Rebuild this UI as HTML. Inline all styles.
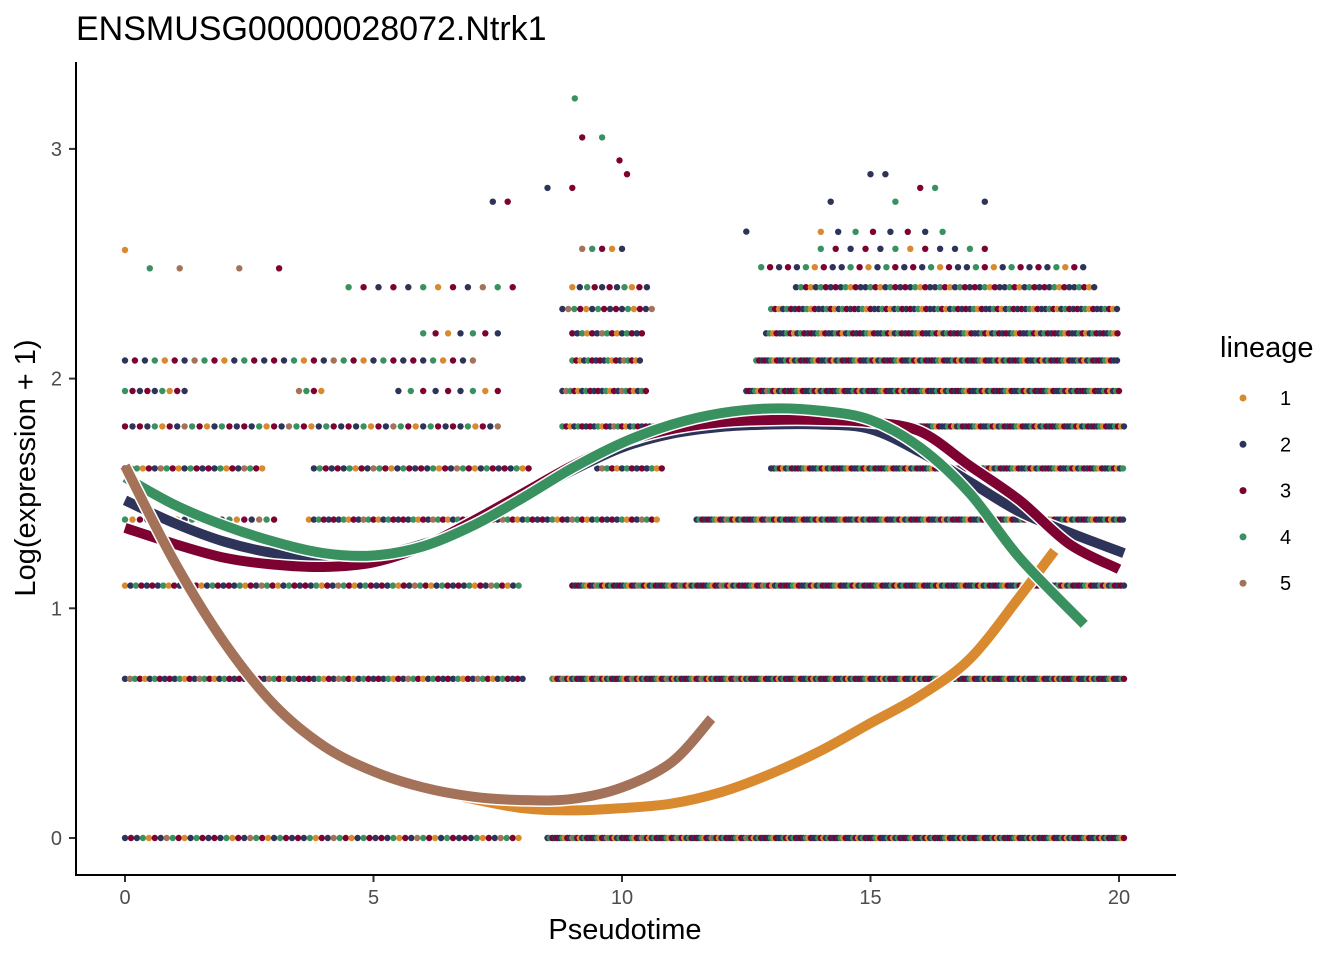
<!DOCTYPE html>
<html><head><meta charset="utf-8"><style>
body{margin:0;background:#fff;font-family:"Liberation Sans",Arial,sans-serif}
svg text{font-family:"Liberation Sans",Arial,sans-serif}
</style></head><body>
<svg id="chart" width="1344" height="960" viewBox="0 0 1344 960">
<text x="76" y="40" font-size="34" fill="#000">ENSMUSG00000028072.Ntrk1</text>
<g id="pts"></g>
<g id="curves"></g>
<line x1="76" y1="62" x2="76" y2="876" stroke="#000" stroke-width="2"/>
<line x1="75" y1="875" x2="1176" y2="875" stroke="#000" stroke-width="2"/>
<g id="xt"></g>
<g id="yt"></g>
<text x="625" y="939" font-size="29" text-anchor="middle">Pseudotime</text>
<text transform="translate(35,468) rotate(-90)" font-size="29" text-anchor="middle">Log(expression + 1)</text>
<g>
<text x="1220" y="357" font-size="29">lineage</text>
<g id="leg"></g>
</g>
</svg>
<script>
const NS="http://www.w3.org/2000/svg";
const colors=["#D98A2E","#2E3359","#7D0232","#3A9160","#A47159"];
const lineageNames=["1","2","3","4","5"];
const xTicks=[0,5,10,15,20];
const yTicks=[0,1,2,3];
// dot runs: [level, xStart, xEnd, step]
const levels=[0,0.693,1.099,1.386,1.609,1.792,1.946,2.079,2.197,2.303,2.398,2.485,2.565,2.639,2.708,2.773,2.833];
const runs=[
[0,0,8,0.12],[0,8.5,20.1,0.05],
[1,0,8,0.1],[1,8.6,20.1,0.05],
[2,0,8,0.11],[2,9,20.1,0.06],
[3,0,3,0.15],[3,3.7,10.7,0.1],[3,11.5,20.1,0.06],
[4,0,2.8,0.12],[4,3.8,8.2,0.12],[4,9.5,10.8,0.1],[4,13,20.1,0.06],
[5,0,7.5,0.15],[5,8.8,10.7,0.08],[5,13.8,20.1,0.06],
[6,0,1.2,0.15],[6,3.5,4,0.15],[6,5.5,7.5,0.25],[6,8.8,10.5,0.08],[6,12.5,20,0.06],
[7,0,7,0.2],[7,9,10.4,0.08],[7,12.7,20,0.06],
[8,6,7.5,0.25],[8,9,10.4,0.1],[8,12.9,20,0.07],
[9,8.8,10.6,0.12],[9,13,20,0.08],
[10,4.5,8,0.3],[10,9,10.5,0.15],[10,13.5,19.5,0.1],
[11,12.8,19.3,0.18],
[12,9.2,10,0.2],[12,14,17.5,0.3],
[13,14,16.5,0.35]];
const colorPattern=[1,2,1,3,0,2,1,4,3,2,0,1,3,2];
// individual high points: [x, y, lineage]
const extraX=[9.05,9.6,9.95,9.2,10.1,8.5,9.0,15.0,15.3,16.0,16.3,14.2,17.3,0.0,0.5,1.1,2.3,3.1,7.7,7.4,12.5,15.5];
const extraY=[3.22,3.05,2.95,3.05,2.89,2.83,2.83,2.89,2.89,2.83,2.83,2.77,2.77,2.56,2.48,2.48,2.48,2.48,2.77,2.77,2.64,2.77];
const extraL=[3,3,2,2,2,1,2,1,1,2,3,1,1,0,3,4,4,2,2,1,1,3];
// curves
const c1x=[0,1,2,3,4,5,6,7,8,9,10,11,12,13,14,15,16,17,18,18.7];
const c1y=[1.62,1.2,0.85,0.58,0.4,0.29,0.22,0.17,0.13,0.12,0.13,0.15,0.2,0.28,0.38,0.5,0.62,0.78,1.05,1.25];
const c2x=[0,1,2,3,4,5,6,7,8,9,10,11,12,13,14,15,16,17,18,19,20.1];
const c2y=[1.47,1.37,1.29,1.24,1.22,1.23,1.28,1.37,1.48,1.6,1.7,1.76,1.79,1.8,1.8,1.78,1.68,1.55,1.42,1.33,1.24];
const c3x=[0,1,2,3,4,5,6,7,8,9,10,11,12,13,14,15,16,17,18,19,20];
const c3y=[1.35,1.28,1.22,1.19,1.18,1.2,1.27,1.38,1.5,1.62,1.72,1.78,1.81,1.82,1.82,1.81,1.77,1.62,1.47,1.28,1.17];
const c4x=[0,1,2,3,4,5,6,7,8,9,10,11,12,13,14,15,16,17,18,19.3];
const c4y=[1.57,1.45,1.36,1.29,1.24,1.23,1.27,1.36,1.48,1.61,1.72,1.8,1.85,1.87,1.86,1.82,1.7,1.5,1.22,0.93];
const c5x=[0,1,2,3,4,5,6,7,8,9,10,11,11.8];
const c5y=[1.62,1.2,0.85,0.58,0.4,0.29,0.22,0.18,0.165,0.17,0.22,0.33,0.52];

const sx=v=>125+v*49.7;
const sy=v=>838-v*229.7;
const pts=document.getElementById('pts');
let k=0;
function dot(x,y,l){
  const c=document.createElementNS(NS,'circle');
  c.setAttribute('cx',sx(x).toFixed(1));c.setAttribute('cy',sy(y).toFixed(1));
  c.setAttribute('r',3.2);c.setAttribute('fill',colors[l]);
  
  
  pts.appendChild(c);
}
runs.forEach(r=>{
  for(let x=r[1];x<=r[2]+1e-9;x+=r[3]){
    let l=colorPattern[k%colorPattern.length];k++;
    if(x>13&&l===4)l=1;
    dot(x,levels[r[0]],l);
  }
});
extraX.forEach((x,i)=>dot(x,extraY[i],extraL[i]));

const cv=document.getElementById('curves');
function path(xs,ys){
  let d='M'+sx(xs[0])+','+sy(ys[0]);
  for(let i=0;i<xs.length-1;i++){
    const x0=xs[Math.max(i-1,0)],y0=ys[Math.max(i-1,0)],x1=xs[i],y1=ys[i],x2=xs[i+1],y2=ys[i+1],x3=xs[Math.min(i+2,xs.length-1)],y3=ys[Math.min(i+2,xs.length-1)];
    const a=[sx(x1)+(sx(x2)-sx(x0))/6,sy(y1)+(sy(y2)-sy(y0))/6],b=[sx(x2)-(sx(x3)-sx(x1))/6,sy(y2)-(sy(y3)-sy(y1))/6];
    d+=' C'+a[0]+','+a[1]+' '+b[0]+','+b[1]+' '+sx(x2)+','+sy(y2);
  }
  return d;
}
[[c1x,c1y,0,'curve-lineage-1'],[c2x,c2y,1,'curve-lineage-2'],[c3x,c3y,2,'curve-lineage-3'],[c4x,c4y,3,'curve-lineage-4'],[c5x,c5y,4,'curve-lineage-5']].forEach(c=>{
  const d=path(c[0],c[1]);
  const w=document.createElementNS(NS,'path');
  w.setAttribute('d',d);w.setAttribute('fill','none');w.setAttribute('stroke','#fff');w.setAttribute('stroke-width',13);
  
  
  cv.appendChild(w);
  const p=document.createElementNS(NS,'path');
  p.setAttribute('d',d);p.setAttribute('fill','none');p.setAttribute('stroke',colors[c[2]]);p.setAttribute('stroke-width',10);
  
  
  cv.appendChild(p);
});
const xt=document.getElementById('xt');
xTicks.forEach(v=>{
  const l=document.createElementNS(NS,'line');
  l.setAttribute('x1',sx(v));l.setAttribute('x2',sx(v));l.setAttribute('y1',876);l.setAttribute('y2',882);l.setAttribute('stroke','#333');l.setAttribute('stroke-width',2);
  
  
  xt.appendChild(l);
  const t=document.createElementNS(NS,'text');
  t.setAttribute('x',sx(v));t.setAttribute('y',904);t.setAttribute('font-size',20);t.setAttribute('fill','#4d4d4d');t.setAttribute('text-anchor','middle');
  t.textContent=v;
  
  
  xt.appendChild(t);
});
const yt=document.getElementById('yt');
yTicks.forEach(v=>{
  const l=document.createElementNS(NS,'line');
  l.setAttribute('x1',69);l.setAttribute('x2',75);l.setAttribute('y1',sy(v));l.setAttribute('y2',sy(v));l.setAttribute('stroke','#333');l.setAttribute('stroke-width',2);
  
  
  yt.appendChild(l);
  const t=document.createElementNS(NS,'text');
  t.setAttribute('x',62);t.setAttribute('y',sy(v)+7);t.setAttribute('font-size',20);t.setAttribute('fill','#4d4d4d');t.setAttribute('text-anchor','end');
  t.textContent=v;
  
  
  yt.appendChild(t);
});
const leg=document.getElementById('leg');
lineageNames.forEach((n,i)=>{
  const y=398+i*46.3;
  const c=document.createElementNS(NS,'circle');
  c.setAttribute('cx',1243);c.setAttribute('cy',y);c.setAttribute('r',3.5);c.setAttribute('fill',colors[i]);
  
  
  leg.appendChild(c);
  const t=document.createElementNS(NS,'text');
  t.setAttribute('x',1280);t.setAttribute('y',y+7);t.setAttribute('font-size',20);
  t.textContent=n;
  
  
  leg.appendChild(t);
});
</script>
</body></html>
